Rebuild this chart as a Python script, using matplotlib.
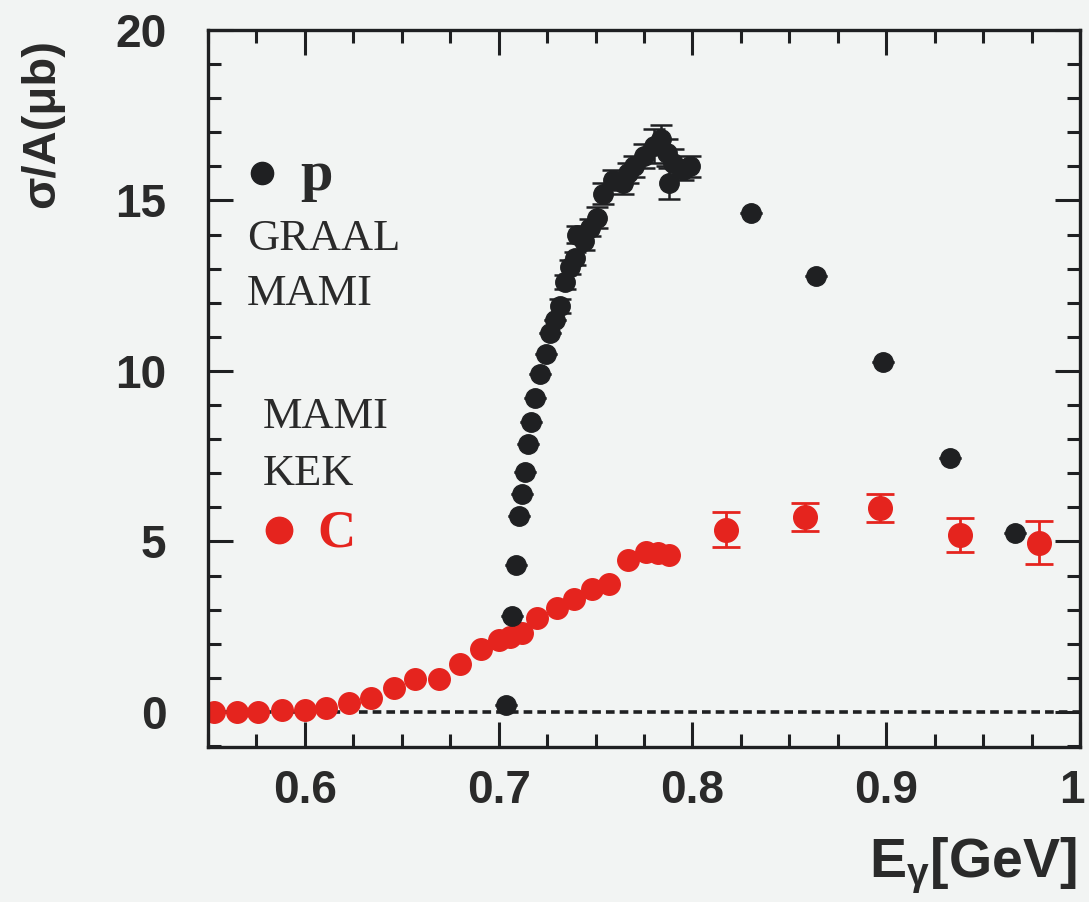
import matplotlib
matplotlib.use("Agg")
import matplotlib.pyplot as plt
import matplotlib.transforms as mtransforms
from matplotlib.ticker import MultipleLocator, FixedLocator

# --- data ---
# proton (GRAAL / MAMI), black
p_x = [0.704, 0.7067, 0.7088, 0.7104, 0.7118, 0.7135, 0.7150, 0.7165, 0.7190,
       0.7215, 0.7245, 0.7265, 0.7290, 0.7315, 0.7340, 0.7370, 0.7395, 0.7405,
       0.7440, 0.7470, 0.7505, 0.7540, 0.7590, 0.7640, 0.7670, 0.7700, 0.7750,
       0.7800, 0.7840, 0.7870, 0.7880, 0.7900, 0.7950, 0.7985,
       0.8304, 0.8639, 0.8985, 0.9330, 0.9665]
p_y = [0.2, 2.8, 4.3, 5.75, 6.4, 7.05, 7.85, 8.5, 9.2,
       9.9, 10.5, 11.1, 11.5, 11.9, 12.6, 13.05, 13.3, 14.0,
       13.8, 14.2, 14.5, 15.2, 15.6, 15.5, 15.8, 16.0, 16.3,
       16.6, 16.8, 16.4, 15.5, 16.1, 15.9, 16.0,
       14.63, 12.79, 10.26, 7.45, 5.25]
p_err = [0, 0, 0, 0, 0, 0, 0, 0, 0,
         0, 0, 0, 0, 0.2, 0.2, 0.2, 0.2, 0.25,
         0.25, 0.25, 0.3, 0.3, 0.3, 0.3, 0.3, 0.3, 0.35,
         0.5, 0.4, 0.4, 0.45, 0.4, 0.3, 0.3,
         0, 0, 0, 0, 0]

# carbon MAMI, red small
c_x = [0.553, 0.565, 0.576, 0.588, 0.600, 0.611, 0.623, 0.634, 0.646, 0.657,
       0.669, 0.680, 0.691, 0.700, 0.706, 0.712, 0.720, 0.730, 0.739, 0.748,
       0.757, 0.767, 0.776, 0.782, 0.788]
c_y = [0.0, 0.0, 0.0, 0.05, 0.05, 0.1, 0.25, 0.4, 0.7, 0.95,
       0.95, 1.4, 1.85, 2.1, 2.2, 2.3, 2.75, 3.05, 3.3, 3.6,
       3.75, 4.45, 4.7, 4.65, 4.6]

# carbon KEK, red large with error bars
k_x = [0.8175, 0.858, 0.897, 0.938, 0.979]
k_y = [5.34, 5.72, 5.98, 5.19, 4.96]
k_err = [0.51, 0.41, 0.40, 0.49, 0.63]

x_ticks = [0.6, 0.7, 0.8, 0.9, 1.0]
x_ticklabels = ["0.6", "0.7", "0.8", "0.9", "1"]
y_ticks = [0, 5, 10, 15, 20]

bg = "#f2f4f3"
red = "#e5241e"
blk = "#1f2022"
txt = "#2a2a2a"

plt.rcParams["mathtext.fontset"] = "custom"
plt.rcParams["mathtext.rm"] = "Liberation Sans:bold"
plt.rcParams["mathtext.it"] = "Liberation Sans:bold"

fig = plt.figure(figsize=(10.89, 9.02), dpi=100, facecolor=bg)
ax = fig.add_axes([208 / 1089, 1 - 747 / 902, 872 / 1089, 717 / 902])
ax.set_facecolor(bg)

ax.set_xlim(0.55, 1.0)
ax.set_ylim(-1.03, 20)

# zero line
ax.axhline(0, color=blk, lw=2.6, ls=(0, (2.4, 1.4)), zorder=1)

# carbon, MAMI
ax.plot(c_x, c_y, "o", color=red, ms=15.5, mec=red, zorder=2)
# carbon, KEK
ax.errorbar(k_x, k_y, yerr=k_err, fmt="o", color=red, ms=17, elinewidth=2,
            capsize=10, capthick=2, zorder=2)
# proton
ax.errorbar(p_x, p_y, yerr=p_err, fmt="o", color=blk, ms=14, elinewidth=1.8,
            capsize=8, capthick=1.8, zorder=3)

# ticks
ax.xaxis.set_major_locator(FixedLocator(x_ticks))
ax.set_xticklabels(x_ticklabels)
ax.xaxis.set_minor_locator(MultipleLocator(0.025))
ax.yaxis.set_major_locator(FixedLocator(y_ticks))
ax.yaxis.set_minor_locator(MultipleLocator(1))
ax.tick_params(which="both", direction="in", top=True, right=True,
               width=2.2, color=blk)
ax.tick_params(which="major", length=18)
ax.tick_params(which="minor", length=9.5)
ax.tick_params(axis="x", which="major", pad=16)
ax.tick_params(axis="y", which="major", pad=30)
for lab in ax.get_xticklabels() + ax.get_yticklabels():
    lab.set_fontfamily("Liberation Sans")
    lab.set_fontweight("bold")
    lab.set_fontsize(33)
    lab.set_color(txt)
# last x label sits at the right edge; nudge it inside the picture
last = ax.get_xticklabels()[-1]
last.set_transform(last.get_transform() +
                   mtransforms.ScaledTranslation(-8 / 100, 0, fig.dpi_scale_trans))
for s in ax.spines.values():
    s.set_linewidth(2.4)
    s.set_color(blk)

# axis labels
fig.text(42 / 1089, 1 - 123 / 902, "σ/A(μb)", rotation=90, ha="center",
         va="center", fontsize=34, fontweight="bold",
         fontfamily="Liberation Sans", color=txt)
fig.text(1076 / 1089, 1 - 877 / 902, r"E$_{\gamma}$[GeV]", ha="right",
         va="baseline", fontsize=40, fontweight="bold",
         fontfamily="Liberation Sans", color=txt)

# in-plot legend text
serif = "Liberation Serif"
ax.plot([0.062], [0.801], "o", color=blk, ms=16, transform=ax.transAxes,
        clip_on=False)
ax.text(0.1055, 0.777, "p", transform=ax.transAxes, fontsize=42,
        fontweight="bold", fontfamily=serif, color=txt, va="baseline")
ax.text(0.0447, 0.693, "GRAAL", transform=ax.transAxes, fontsize=32,
        fontfamily=serif, color=txt, va="baseline")
ax.text(0.0447, 0.6165, "MAMI", transform=ax.transAxes, fontsize=32,
        fontfamily=serif, color=txt, va="baseline")
ax.text(0.063, 0.445, "MAMI", transform=ax.transAxes, fontsize=32,
        fontfamily=serif, color=txt, va="baseline")
ax.text(0.063, 0.365, "KEK", transform=ax.transAxes, fontsize=32,
        fontfamily=serif, color=txt, va="baseline")
ax.plot([0.0814], [0.3027], "o", color=red, ms=19, transform=ax.transAxes,
        clip_on=False)
ax.text(0.126, 0.279, "C", transform=ax.transAxes, fontsize=38,
        fontweight="bold", fontfamily=serif, color=red, va="baseline")

fig.savefig("out.png", dpi=100, facecolor=bg)
